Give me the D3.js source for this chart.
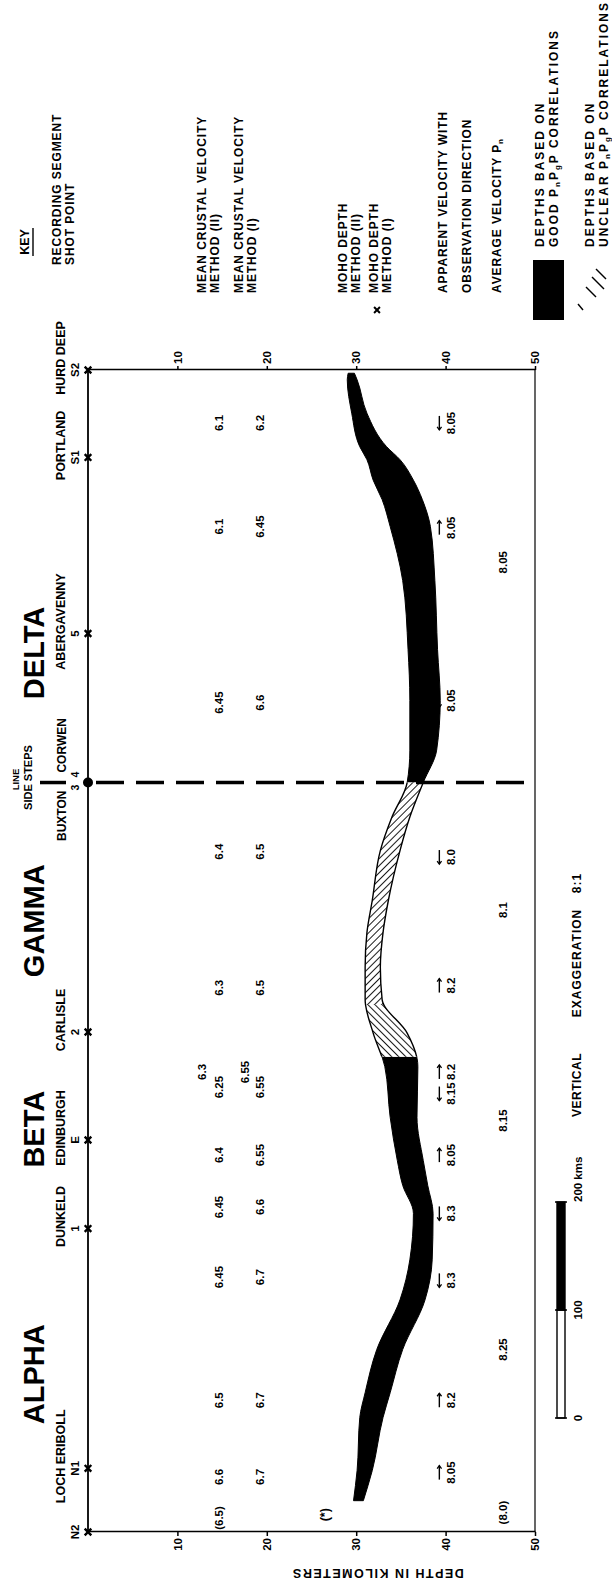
<!DOCTYPE html>
<html>
<head>
<meta charset="utf-8">
<script src="https://cdn.jsdelivr.net/npm/d3@7"></script>
<style>
body { margin: 0; background: #fff; }
svg text { font-family: "Liberation Sans", Arial, sans-serif; font-weight: bold; fill: #000; }
</style>
</head>
<body>
<div id="chart"></div>
<script>
// ---------------- data ----------------
// profile distance (km from N2) of each shot point
var stationKm    = [0, 59, 281, 363, 463, 832, 995, 1076];
var stationCodes = ["N2", "N1", "1", "E", "2", "5", "S1", "S2"];
var stationNames = ["", "LOCH ERIBOLL", "DUNKELD", "EDINBURGH", "CARLISLE", "ABERGAVENNY", "PORTLAND", "HURD DEEP"];
var sideStepKm = 694;   // shot points 3 / 4 (Buxton | Corwen)

var segmentNames = ["ALPHA", "BETA", "GAMMA", "DELTA"];
var segmentKm    = [146, 373, 566, 814];

// Moho band, top and base depth (km)
var bandKm   = [29, 57, 106, 129, 169, 215, 252, 295, 321, 344, 384, 431, 462, 493, 523, 555, 585, 631, 662, 694, 724, 770, 817, 881, 931, 956, 974, 993, 1005, 1036, 1067, 1073];
var bandTop  = [29.7, 30.1, 30.4, 31.0, 32.3, 34.9, 36.0, 36.4, 35.2, 34.6, 33.8, 33.2, 31.9, 31.0, 31.0, 31.2, 31.8, 32.7, 34.0, 35.7, 36.0, 36.0, 35.8, 35.2, 33.8, 32.9, 31.9, 31.2, 30.4, 29.5, 29.0, 29.1];
var bandBase = [30.8, 31.8, 33.0, 33.8, 35.2, 37.7, 38.5, 38.6, 38.0, 37.5, 36.8, 36.9, 35.7, 32.9, 32.7, 33.0, 33.6, 34.9, 36.0, 37.5, 39.0, 39.4, 39.1, 38.8, 38.3, 37.4, 36.4, 34.9, 33.4, 31.2, 30.1, 29.8];
var unclearFrom = 440, unclearTo = 694, unclearSplit = 488;

// mean crustal velocity, method II and method I
var crustKm = [13, 51, 122, 236, 301, 349, 412, 504, 630, 768, 931, 1027];
var crustII = ["(6.5)", "6.6", "6.5", "6.45", "6.45", "6.4", "6.25", "6.3", "6.4", "6.45", "6.1", "6.1"];
var crustI  = ["", "6.7", "6.7", "6.7", "6.6", "6.55", "6.55", "6.5", "6.5", "6.6", "6.45", "6.2"];
var crustExtraKm = [426];
var crustExtraII = ["6.3"];
var crustExtraI  = ["6.55"];

// apparent Pn velocity with observation direction (+1 towards S, -1 towards N)
var apparentKm  = [55, 122, 233, 295, 349, 406, 426, 506, 625, 770, 930, 1027];
var apparentVel = ["8.05", "8.2", "8.3", "8.3", "8.05", "8.15", "8.2", "8.2", "8.0", "8.05", "8.05", "8.05"];
var apparentDir = [1, 1, -1, -1, 1, -1, 1, 1, -1, -1, 1, -1];

// average Pn velocity
var averageKm  = [18, 169, 381, 576, 898];
var averageVel = ["(8.0)", "8.25", "8.15", "8.1", "8.05"];

var depthTicks = [10, 20, 30, 40, 50];
var scaleTicks = [0, 100, 200];

// ---------------- layout ----------------
var W = 612, H = 1585;
var svg = d3.select("#chart").append("svg")
    .attr("width", W)
    .attr("height", H);

// the figure is drawn landscape and turned a quarter to the left
var g = svg.append("g")
    .attr("transform", "translate(0," + H + ") rotate(-90)");

var x = d3.scaleLinear().domain([0, 1076]).range([53, 1215]);   // distance along profile
var y = d3.scaleLinear().domain([0, 50]).range([88, 535]);      // depth

var defs = svg.append("defs");
function hatch(id, angle) {
  var p = defs.append("pattern")
      .attr("id", id)
      .attr("patternUnits", "userSpaceOnUse")
      .attr("width", 5).attr("height", 5)
      .attr("patternTransform", "rotate(" + angle + ")");
  p.append("rect").attr("width", 5).attr("height", 5).attr("fill", "#fff");
  p.append("line").attr("x1", 0).attr("y1", 0).attr("x2", 0).attr("y2", 5)
      .attr("stroke", "#000").attr("stroke-width", 1.8);
}
hatch("hatchA", 45);
hatch("hatchB", -45);

function clipRange(id, k0, k1) {
  defs.append("clipPath").attr("id", id)
    .append("rect")
      .attr("x", x(k0)).attr("y", 0)
      .attr("width", x(k1) - x(k0)).attr("height", 700);
}
clipRange("clipN", -100, unclearFrom);
clipRange("clipS", unclearTo, 1300);
clipRange("clipU1", unclearFrom, unclearSplit);
clipRange("clipU2", unclearSplit, unclearTo);

// ---- frame and depth axes ----
g.append("line").attr("x1", x(0)).attr("x2", x(1076)).attr("y1", y(0)).attr("y2", y(0))
  .attr("stroke", "#000").attr("stroke-width", 1.8);
g.append("line").attr("x1", x(0)).attr("x2", x(1076)).attr("y1", y(50)).attr("y2", y(50))
  .attr("stroke", "#000").attr("stroke-width", 1.2);

var axN = g.append("g").attr("transform", "translate(" + x(0) + ",0)")
  .call(d3.axisLeft(y).tickValues(depthTicks).tickSize(4).tickPadding(2).tickSizeOuter(0));
var axS = g.append("g").attr("transform", "translate(" + x(1076) + ",0)")
  .call(d3.axisRight(y).tickValues(depthTicks).tickSize(4).tickPadding(2).tickSizeOuter(0));
[axN, axS].forEach(function(a) {
  a.select(".domain").attr("stroke", "#000").attr("stroke-width", 1.5);
  a.selectAll(".tick line").attr("stroke", "#000").attr("stroke-width", 1.5);
  a.selectAll(".tick text").style("font-size", "11.5px").attr("fill", "#000");
});

g.append("text")
  .attr("transform", "translate(12," + y(32.4) + ") rotate(-90)")
  .attr("text-anchor", "middle")
  .attr("dominant-baseline", "central")
  .style("font-size", "12.5px")
  .style("letter-spacing", "1.5px")
  .text("DEPTH IN KILOMETERS");

// ---- Moho band ----
var band = bandKm.map(function(k, i) { return {km: k, top: bandTop[i], base: bandBase[i]}; });
var area = d3.area()
  .x(function(d) { return x(d.km); })
  .y0(function(d) { return y(d.top); })
  .y1(function(d) { return y(d.base); })
  .curve(d3.curveMonotoneX);

["clipN", "clipS"].forEach(function(c) {
  g.append("path").datum(band).attr("d", area)
    .attr("clip-path", "url(#" + c + ")")
    .attr("fill", "#000").attr("stroke", "#000").attr("stroke-width", 1);
});
g.append("path").datum(band).attr("d", area)
  .attr("clip-path", "url(#clipU1)")
  .attr("fill", "url(#hatchA)").attr("stroke", "#000").attr("stroke-width", 1.4);
g.append("path").datum(band).attr("d", area)
  .attr("clip-path", "url(#clipU2)")
  .attr("fill", "url(#hatchB)").attr("stroke", "#000").attr("stroke-width", 1.4);

// ---- line side steps (shot points 3 / 4) ----
g.append("line")
  .attr("x1", x(sideStepKm)).attr("x2", x(sideStepKm))
  .attr("y1", y(0) + 8).attr("y2", y(50))
  .attr("stroke", "#000").attr("stroke-width", 3.5)
  .attr("stroke-dasharray", "28,12");
g.append("line")
  .attr("x1", x(sideStepKm)).attr("x2", x(sideStepKm))
  .attr("y1", 40).attr("y2", 66)
  .attr("stroke", "#000").attr("stroke-width", 3.5);
g.append("circle").attr("cx", x(sideStepKm)).attr("cy", y(0)).attr("r", 5).attr("fill", "#000");
g.append("path")
  .attr("transform", "translate(" + x(sideStepKm) + "," + y(50) + ")")
  .attr("d", d3.symbol(d3.symbolPlus, 40)())
  .attr("fill", "#000");

function label(u, v, txt, size, anchor, spacing) {
  return g.append("text")
    .attr("x", u).attr("y", v)
    .attr("text-anchor", anchor || "middle")
    .attr("dominant-baseline", "central")
    .style("font-size", size + "px")
    .style("letter-spacing", (spacing || 0) + "px")
    .text(txt);
}
label(x(sideStepKm) + 3, 15, "LINE", 9.5);
label(x(sideStepKm) + 5, 28, "SIDE  STEPS", 11);
label(x(sideStepKm) - 8, 62, "BUXTON", 12, "end");
label(x(sideStepKm) + 10, 62, "CORWEN", 12, "start");
label(x(sideStepKm) - 5, 75, "3", 10.5);
label(x(sideStepKm) + 8, 75, "4", 10.5);

// ---- shot points ----
var st = g.selectAll(".station").data(stationKm).enter().append("g")
  .attr("class", "station")
  .attr("transform", function(d) { return "translate(" + x(d) + ",0)"; });
st.append("path")
  .attr("transform", "translate(0," + y(0) + ")")
  .attr("d", d3.symbol(d3.symbolTimes, 30)())
  .attr("fill", "none").attr("stroke", "#000").attr("stroke-width", 2.4);
st.append("text")
  .attr("y", 75).attr("text-anchor", "middle").attr("dominant-baseline", "central")
  .style("font-size", "11.5px")
  .text(function(d, i) { return stationCodes[i]; });
st.append("text")
  .attr("x", 12).attr("y", 61).attr("text-anchor", "middle").attr("dominant-baseline", "central")
  .style("font-size", "12.5px")
  .text(function(d, i) { return stationNames[i]; });

g.selectAll(".segment").data(segmentKm).enter().append("text")
  .attr("class", "segment")
  .attr("x", function(d) { return x(d); })
  .attr("y", 34)
  .attr("text-anchor", "middle").attr("dominant-baseline", "central")
  .style("font-size", "29px")
  .text(function(d, i) { return segmentNames[i]; });

// ---- velocity values ----
function column(kms, vals, depth, size) {
  g.append("g").selectAll("text").data(kms).enter().append("text")
    .attr("x", function(d) { return x(d); })
    .attr("y", y(depth))
    .attr("text-anchor", "middle").attr("dominant-baseline", "central")
    .style("font-size", size + "px")
    .text(function(d, i) { return vals[i]; });
}
column(crustKm, crustII, 14.6, 11.5);
column(crustKm, crustI, 19.2, 11.5);
column(crustExtraKm, crustExtraII, 12.8, 11.5);
column(crustExtraKm, crustExtraI, 17.6, 11.5);
column(apparentKm, apparentVel, 40.6, 11.5);
column(averageKm, averageVel, 46.4, 11.5);
label(x(16), y(26.5), "(*)", 12.5);

var arrows = g.append("g").selectAll("g").data(apparentKm).enter().append("g")
  .attr("transform", function(d) { return "translate(" + x(d) + "," + y(39.3) + ")"; });
arrows.append("line").attr("x1", -7).attr("x2", 7)
  .attr("stroke", "#000").attr("stroke-width", 1.4);
arrows.append("path")
  .attr("d", function(d, i) {
    var s = apparentDir[i];
    return "M" + (4 * s) + ",-2.2L" + (7 * s) + ",0L" + (4 * s) + ",2.2";
  })
  .attr("fill", "none").attr("stroke", "#000").attr("stroke-width", 1.3);

// ---- horizontal scale bar ----
var sb0 = 167;
var sb = d3.scaleLinear().domain([0, 200]).range([sb0, sb0 + x(200) - x(0)]);
g.append("rect").attr("x", sb(0)).attr("y", 557).attr("width", sb(100) - sb(0)).attr("height", 8)
  .attr("fill", "#fff").attr("stroke", "#000").attr("stroke-width", 1.4);
g.append("rect").attr("x", sb(100)).attr("y", 557).attr("width", sb(200) - sb(100)).attr("height", 8)
  .attr("fill", "#000").attr("stroke", "#000").attr("stroke-width", 1.4);
g.selectAll(".sbt").data(scaleTicks).enter().append("line")
  .attr("x1", sb).attr("x2", sb).attr("y1", 555).attr("y2", 567)
  .attr("stroke", "#000").attr("stroke-width", 1.5);
g.selectAll(".sbl").data(scaleTicks).enter().append("text")
  .attr("x", sb).attr("y", 578)
  .attr("text-anchor", function(d) { return d === 200 ? "start" : "middle"; })
  .attr("dominant-baseline", "central")
  .style("font-size", "11.5px")
  .text(function(d) { return d === 200 ? "200 kms" : d; });

label(500, 577, "VERTICAL", 12, "middle", 0.5);
label(622, 577, "EXAGGERATION", 12, "middle", 1);
label(702, 577, "8:1", 12, "middle", 1);

// ---- key ----
var ks = 12, kl = 0.9;
label(1343, 25, "KEY", 12.5);
g.append("line").attr("x1", 1329).attr("x2", 1357).attr("y1", 33).attr("y2", 33)
  .attr("stroke", "#000").attr("stroke-width", 1.4);
label(1320, 57, "RECORDING  SEGMENT", ks, "start", kl);
label(1320, 70, "SHOT  POINT", ks, "start", kl);
label(1292, 202, "MEAN CRUSTAL VELOCITY", ks, "start", kl);
label(1292, 215, "METHOD (II)", ks, "start", kl);
label(1292, 239, "MEAN CRUSTAL VELOCITY", ks, "start", kl);
label(1292, 252, "METHOD (I)", ks, "start", kl);
g.append("path").attr("transform", "translate(1275,348)")
  .attr("d", d3.symbol(d3.symbolPlus, 30)()).attr("fill", "#000");
label(1292, 343, "MOHO  DEPTH", ks, "start", kl);
label(1292, 356, "METHOD (II)", ks, "start", kl);
g.append("path").attr("transform", "translate(1275,377)")
  .attr("d", d3.symbol(d3.symbolTimes, 24)()).attr("stroke", "#000").attr("stroke-width", 2).attr("fill", "none");
label(1292, 374, "MOHO  DEPTH", ks, "start", kl);
label(1292, 387, "METHOD (I)", ks, "start", kl);
label(1292, 443, "APPARENT  VELOCITY  WITH", ks, "start", kl);
label(1292, 467, "OBSERVATION  DIRECTION", ks, "start", kl);
var av = label(1292, 497, "AVERAGE   VELOCITY  P", ks, "start", kl);
av.append("tspan").attr("dy", 3).style("font-size", "8px").text("n");

g.append("rect").attr("x", 1265).attr("y", 533).attr("width", 60).attr("height", 31).attr("fill", "#000");
label(1338, 540, "DEPTHS BASED ON", ks, "start", 2);
var gd = label(1338, 554, "GOOD P", ks, "start", 2);
gd.append("tspan").attr("dy", 3).style("font-size", "8px").text("n");
gd.append("tspan").attr("dy", -3).text("P");
gd.append("tspan").attr("dy", 3).style("font-size", "8px").text("g");
gd.append("tspan").attr("dy", -3).text("P  CORRELATIONS");

[[1275, 583, 1281, 578], [1288, 596, 1298, 586], [1296, 604, 1308, 592], [1306, 606, 1316, 596]].forEach(function(s) {
  g.append("line").attr("x1", s[0]).attr("y1", s[1]).attr("x2", s[2]).attr("y2", s[3])
    .attr("stroke", "#000").attr("stroke-width", 1.4);
});
label(1338, 590, "DEPTHS  BASED ON", ks, "start", 2);
var uc = label(1338, 604, "UNCLEAR  P", ks, "start", 2);
uc.append("tspan").attr("dy", 3).style("font-size", "8px").text("n");
uc.append("tspan").attr("dy", -3).text("P");
uc.append("tspan").attr("dy", 3).style("font-size", "8px").text("g");
uc.append("tspan").attr("dy", -3).text("P  CORRELATIONS");
</script>
</body>
</html>
